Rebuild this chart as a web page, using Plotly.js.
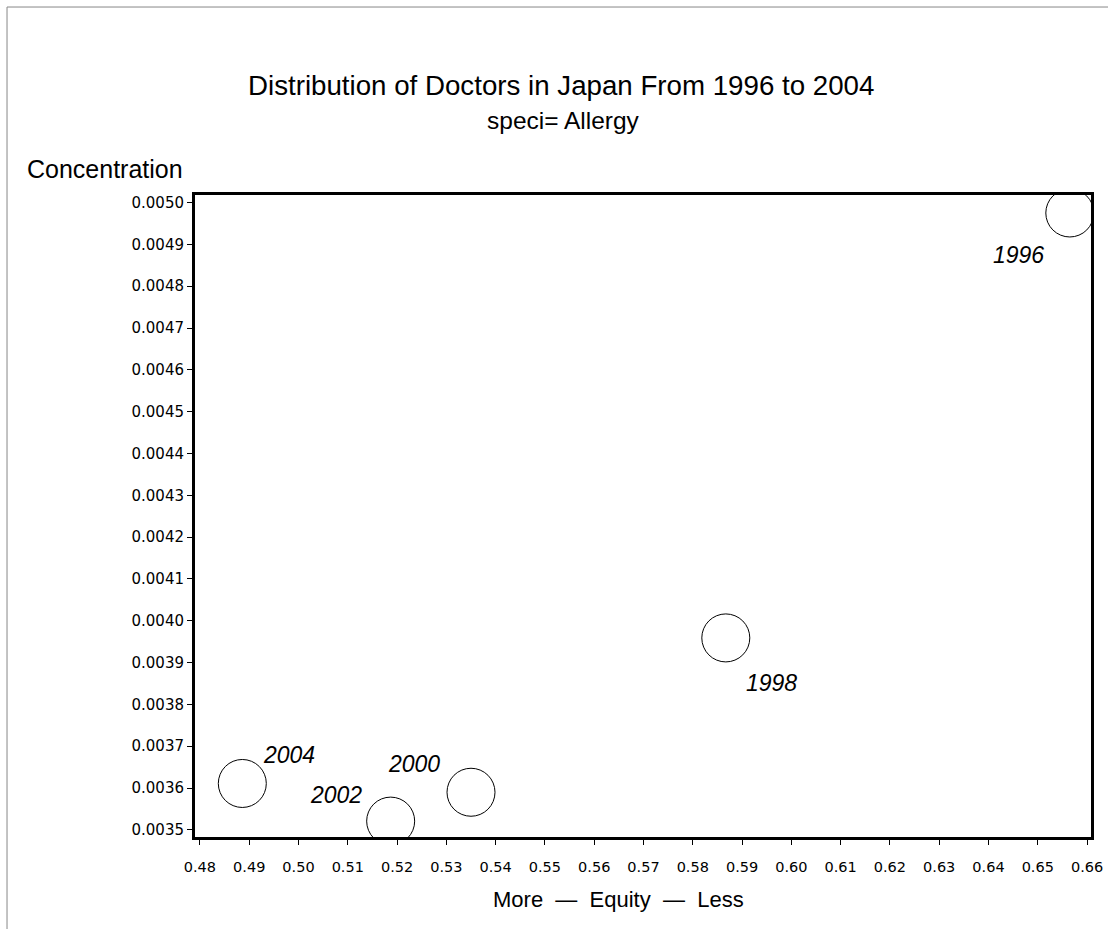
<!DOCTYPE html>
<html>
<head>
<meta charset="utf-8">
<script src="https://cdn.plot.ly/plotly-3.0.1.min.js"></script>
<style>
  html, body { margin: 0; padding: 0; background: #fff; }
  #chart { width: 1108px; height: 929px; }
</style>
</head>
<body>
<div id="chart"></div>
<script>
// Allergy specialists: equity index vs concentration, by survey year
const years = ['1996', '1998', '2000', '2002', '2004'];
const equity = [0.6565, 0.5867, 0.5350, 0.5187, 0.4886];
const concentration = [0.004975, 0.003959, 0.003590, 0.003521, 0.003611];

const xTickVals = [0.48, 0.49, 0.50, 0.51, 0.52, 0.53, 0.54, 0.55, 0.56, 0.57,
                   0.58, 0.59, 0.60, 0.61, 0.62, 0.63, 0.64, 0.65, 0.66];
const yTickVals = [0.0035, 0.0036, 0.0037, 0.0038, 0.0039, 0.0040, 0.0041, 0.0042,
                   0.0043, 0.0044, 0.0045, 0.0046, 0.0047, 0.0048, 0.0049, 0.0050];

const FONT = 'Liberation Sans, Arial, sans-serif';
const TICK_FONT = 'DejaVu Sans, sans-serif';

// pixel shifts [right, up] of each year label from its circle
const labelShift = {
  '1996': [-51, -42],
  '1998': [46, -45],
  '2000': [-57, 28],
  '2002': [-55, 26],
  '2004': [47, 28]
};

const trace = {
  type: 'scatter',
  mode: 'markers',
  x: equity,
  y: concentration,
  cliponaxis: true,
  marker: {
    symbol: 'circle-open',
    size: 48,
    color: '#000',
    line: { color: '#000', width: 1 }
  },
  hoverinfo: 'skip'
};

const yearNotes = years.map((yr, i) => ({
  x: equity[i],
  y: concentration[i],
  xref: 'x', yref: 'y',
  text: '<i>' + yr + '</i>',
  showarrow: false,
  xshift: labelShift[yr][0],
  yshift: labelShift[yr][1],
  font: { family: FONT, size: 23, color: '#000' }
}));

const textNotes = [
  {
    text: 'Distribution of Doctors in Japan From 1996 to 2004',
    xref: 'paper', yref: 'paper', x: 0.408, y: 1.1698,
    xanchor: 'center', yanchor: 'middle', showarrow: false,
    font: { family: FONT, size: 27.7, color: '#000' }
  },
  {
    text: 'speci= Allergy',
    xref: 'paper', yref: 'paper', x: 0.411, y: 1.1153,
    xanchor: 'center', yanchor: 'middle', showarrow: false,
    font: { family: FONT, size: 24.5, color: '#000' }
  },
  {
    text: 'Concentration',
    xref: 'paper', yref: 'paper', x: -0.1897, y: 1.0405,
    xanchor: 'left', yanchor: 'middle', showarrow: false,
    font: { family: FONT, size: 25, color: '#000' }
  },
  {
    text: 'More  \u2014  Equity  \u2014  Less',
    xref: 'paper', yref: 'paper', x: 0.473, y: -0.098,
    xanchor: 'center', yanchor: 'middle', showarrow: false,
    font: { family: FONT, size: 22, color: '#000' }
  }
];

const layout = {
  width: 1108,
  height: 929,
  margin: { l: 195, r: 17, t: 195, b: 92 },
  paper_bgcolor: '#fff',
  plot_bgcolor: '#fff',
  showlegend: false,
  xaxis: {
    range: [0.479, 0.6608],
    tickvals: xTickVals,
    tickformat: '.2f',
    ticks: 'outside', ticklen: 5, tickwidth: 1, tickcolor: '#000',
    ticklabelstandoff: 10,
    showline: true, mirror: true, linecolor: '#000', linewidth: 3,
    showgrid: false, zeroline: false,
    tickfont: { family: TICK_FONT, size: 14.5, color: '#000' }
  },
  yaxis: {
    range: [0.003483, 0.005018],
    tickvals: yTickVals,
    tickformat: '.4f',
    ticks: 'outside', ticklen: 5, tickwidth: 1, tickcolor: '#000',
    showline: true, mirror: true, linecolor: '#000', linewidth: 3,
    showgrid: false, zeroline: false,
    tickfont: { family: TICK_FONT, size: 15, color: '#000' }
  },
  shapes: [
    { type: 'line', xref: 'paper', yref: 'paper', x0: -0.2098, x1: 1.02, y0: 1.2928, y1: 1.2928,
      line: { color: '#888', width: 1 } },
    { type: 'line', xref: 'paper', yref: 'paper', x0: -0.2098, x1: -0.2098, y0: 1.2928, y1: -0.15,
      line: { color: '#888', width: 1 } }
  ],
  annotations: textNotes.concat(yearNotes)
};

Plotly.newPlot('chart', [trace], layout, { displayModeBar: false, staticPlot: true });
</script>
</body>
</html>
